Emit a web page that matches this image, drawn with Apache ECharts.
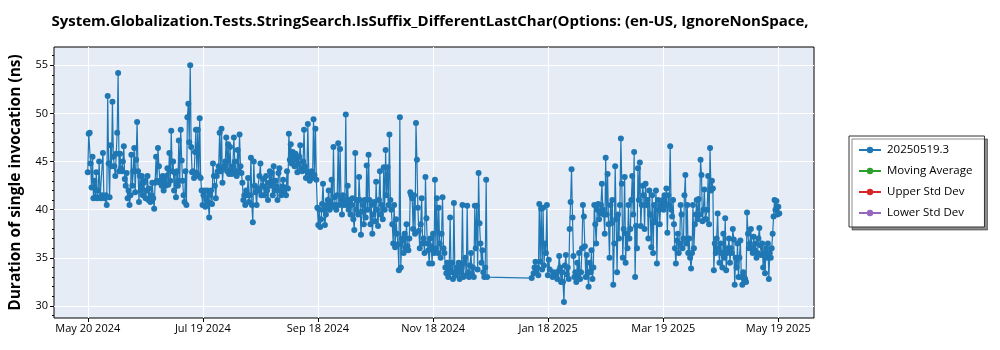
<!DOCTYPE html>
<html><head><meta charset="utf-8">
<script src="https://cdn.jsdelivr.net/npm/echarts@6/dist/echarts.min.js"></script>
<style>html,body{margin:0;padding:0;background:#fff}#c{width:1000px;height:350px}</style>
</head><body><div id="c"></div>
<script>
const titleText = 'System.Globalization.Tests.StringSearch.IsSuffix_DifferentLastChar(Options: (en-US, IgnoreNonSpace,';
const yAxisTitle = 'Duration of single invocation (ns)';
const seriesNames = ['20250519.3', 'Moving Average', 'Upper Std Dev', 'Lower Std Dev'];
const seriesColors = ['#1f77b4', '#2ca02c', '#d62728', '#9467bd'];
const xTickLabels = ['May 20 2024', 'Jul 19 2024', 'Sep 18 2024', 'Nov 18 2024', 'Jan 18 2025', 'Mar 19 2025', 'May 19 2025'];
const yMajorTicks = [30, 35, 40, 45, 50, 55];
const yMinorTicks = [29, 31, 32, 33, 34, 36, 37, 38, 39, 41, 42, 43, 44, 46, 47, 48, 49, 51, 52, 53, 54, 56];
const axisStart = '2024-05-20';
const axisEnd = '2025-05-19';

const dates = [
'2024-05-20','2024-05-21','2024-05-22','2024-05-23','2024-05-24','2024-05-25','2024-05-26','2024-05-27','2024-05-28','2024-05-29','2024-05-30','2024-05-31',
'2024-06-01','2024-06-02','2024-06-03','2024-06-04','2024-06-05','2024-06-06','2024-06-07','2024-06-08','2024-06-09','2024-06-10','2024-06-11','2024-06-12','2024-06-13','2024-06-14','2024-06-15','2024-06-16','2024-06-17','2024-06-18','2024-06-19','2024-06-20','2024-06-21','2024-06-22','2024-06-23','2024-06-24','2024-06-25','2024-06-26','2024-06-27','2024-06-28','2024-06-29','2024-06-30',
'2024-07-01','2024-07-02','2024-07-03','2024-07-04','2024-07-05','2024-07-06','2024-07-07','2024-07-08','2024-07-09','2024-07-10','2024-07-11','2024-07-12','2024-07-13','2024-07-14','2024-07-15','2024-07-16','2024-07-17','2024-07-18','2024-07-19','2024-07-20','2024-07-21','2024-07-22','2024-07-23','2024-07-24','2024-07-25','2024-07-26','2024-07-27','2024-07-28','2024-07-29','2024-07-30','2024-07-31',
'2024-08-01','2024-08-02','2024-08-03','2024-08-04','2024-08-05','2024-08-06','2024-08-07','2024-08-08','2024-08-09','2024-08-10','2024-08-11','2024-08-12','2024-08-13','2024-08-14','2024-08-15','2024-08-16','2024-08-17','2024-08-18','2024-08-19','2024-08-20','2024-08-21','2024-08-22','2024-08-23','2024-08-24','2024-08-25','2024-08-26','2024-08-27','2024-08-28','2024-08-29','2024-08-30','2024-08-31',
'2024-09-01','2024-09-02','2024-09-03','2024-09-04','2024-09-05','2024-09-06','2024-09-07','2024-09-08','2024-09-09','2024-09-10','2024-09-11','2024-09-12','2024-09-13','2024-09-14','2024-09-15','2024-09-16','2024-09-17','2024-09-18','2024-09-19','2024-09-20','2024-09-21','2024-09-22','2024-09-23','2024-09-24','2024-09-25','2024-09-26','2024-09-27','2024-09-28','2024-09-29','2024-09-30',
'2024-10-01','2024-10-02','2024-10-03','2024-10-04','2024-10-05','2024-10-06','2024-10-07','2024-10-08','2024-10-09','2024-10-10','2024-10-11','2024-10-12','2024-10-13','2024-10-14','2024-10-15','2024-10-16','2024-10-17','2024-10-18','2024-10-19','2024-10-20','2024-10-21','2024-10-22','2024-10-23','2024-10-24','2024-10-25','2024-10-26','2024-10-27','2024-10-28','2024-10-29','2024-10-30','2024-10-31',
'2024-11-01','2024-11-02','2024-11-03','2024-11-04','2024-11-05','2024-11-06','2024-11-07','2024-11-08','2024-11-09','2024-11-10','2024-11-11','2024-11-12','2024-11-13','2024-11-14','2024-11-15','2024-11-16','2024-11-17','2024-11-18','2024-11-19','2024-11-20','2024-11-21','2024-11-22','2024-11-23','2024-11-24','2024-11-25','2024-11-26','2024-11-27','2024-11-28','2024-11-29','2024-11-30',
'2024-12-01','2024-12-02','2024-12-03','2024-12-04','2024-12-05','2024-12-06','2024-12-07','2024-12-08','2024-12-09','2024-12-10','2024-12-11','2024-12-12','2024-12-13','2024-12-14','2024-12-15','2024-12-16',
'2025-01-09','2025-01-10','2025-01-11','2025-01-12','2025-01-13','2025-01-14','2025-01-15','2025-01-16','2025-01-17','2025-01-18','2025-01-20','2025-01-22','2025-01-23','2025-01-24','2025-01-25','2025-01-26','2025-01-27','2025-01-28','2025-01-29','2025-01-30','2025-01-31',
'2025-02-01','2025-02-02','2025-02-03','2025-02-04','2025-02-05','2025-02-06','2025-02-07','2025-02-08','2025-02-09','2025-02-10','2025-02-11','2025-02-12','2025-02-13','2025-02-14','2025-02-15','2025-02-16','2025-02-17','2025-02-18','2025-02-19','2025-02-20','2025-02-21','2025-02-22','2025-02-23','2025-02-24','2025-02-25','2025-02-26','2025-02-27','2025-02-28',
'2025-03-01','2025-03-02','2025-03-03','2025-03-04','2025-03-05','2025-03-06','2025-03-07','2025-03-08','2025-03-09','2025-03-10','2025-03-11','2025-03-12','2025-03-13','2025-03-14','2025-03-15','2025-03-16','2025-03-17','2025-03-18','2025-03-19','2025-03-20','2025-03-21','2025-03-22','2025-03-23','2025-03-24','2025-03-25','2025-03-26','2025-03-27','2025-03-28','2025-03-29','2025-03-30','2025-03-31',
'2025-04-01','2025-04-02','2025-04-03','2025-04-04','2025-04-05','2025-04-06','2025-04-07','2025-04-08','2025-04-09','2025-04-10','2025-04-11','2025-04-12','2025-04-13','2025-04-14','2025-04-15','2025-04-16','2025-04-17','2025-04-18','2025-04-19','2025-04-20','2025-04-21','2025-04-22','2025-04-23','2025-04-24','2025-04-25','2025-04-26','2025-04-27','2025-04-28','2025-04-29','2025-04-30',
'2025-05-01','2025-05-02','2025-05-03','2025-05-04','2025-05-05','2025-05-06','2025-05-07','2025-05-08','2025-05-09','2025-05-10','2025-05-11','2025-05-12','2025-05-13','2025-05-14','2025-05-15','2025-05-16','2025-05-17','2025-05-18','2025-05-19'
];

// measured durations (ns) per date, one entry per run that day
const runValues = [
[43.9,47.9],[48.0,44.8],[42.3,45.5],[41.2,43.0],[41.3,43.9],[41.2,42.0],[45.0,41.3],[41.2,41.5],[45.9,41.3],[41.2,41.5],[40.5,51.8],[44.8,41.3],
[46.7,44.5],[51.2,45.5],[44.5,43.5],[45.8,48.0],[54.2,44.0],[45.8,44.3],[44.0,45.0],[46.6,43.2],[42.5,43.8],[41.2,42.0],[40.5,41.5],[45.7,42.5],[44.0,46.4],[41.8,45.2],[49.1,44.0],[40.8,43.5],[42.0,43.5],[41.5,42.8],[43.0,41.2],[42.0,43.5],[41.0,42.2],[40.8,41.5],[42.8,41.2],[40.1,42.8],[45.5,43.0],[46.4,44.5],[42.8,43.0],[42.5,43.5],[42.0,43.0],[42.5,43.5],
[44.3,42.6],[45.9,43.0],[48.2,44.0],[45.0,42.0],[43.8,41.3],[44.0,42.5],[47.2,43.0],[48.3,45.1],[43.0,41.5],[40.8,44.0],[40.5,49.6],[51.0,47.0],[55.0,46.5],[43.9,44.0],[43.3,46.0],[48.3,43.8],[48.3,43.5],[49.5,43.3],[42.0,40.5],[41.5,42.0],[40.3,41.0],[42.0,40.8],[39.2,41.5],[42.0,40.6],[44.8,43.5],[42.5,41.2],[43.5,44.0],[44.5,48.0],[44.0,48.4],[42.8,44.3],[44.5,45.0],
[47.5,44.0],[46.8,43.7],[46.5,44.2],[43.7,44.5],[47.5,45.0],[44.0,43.5],[46.2,44.0],[47.8,44.5],[43.8,42.8],[41.0,41.5],[40.5,42.0],[41.5,43.3],[40.8,41.5],[45.4,40.5],[38.7,45.0],[42.5,41.8],[40.5,42.2],[42.0,43.5],[44.8,41.5],[42.5,43.2],[41.5,42.3],[43.5,42.0],[41.0,42.8],[44.0,42.5],[43.8,41.5],[44.5,42.0],[43.0,42.4],[41.0,43.8],[44.3,42.0],[41.5,42.4],[43.1,41.8],
[42.3,41.5],[44.0,42.2],[47.9,45.2],[46.8,44.8],[46.0,45.4],[44.5,45.8],[45.2,43.9],[44.8,45.5],[46.7,44.3],[44.0,45.0],[48.3,44.5],[43.3,44.0],[48.9,43.8],[43.0,43.5],[44.0,43.3],[49.4,43.6],[48.4,43.1],[40.2,38.4],[40.0,38.2],[39.0,40.6],[42.7,40.0],[38.4,39.5],[40.5,41.0],[42.0,40.0],[40.8,43.1],[40.3,46.5],[41.3,40.5],[40.0,41.5],[46.9,40.5],[46.3,41.0],
[39.5,41.5],[40.5,41.0],[49.9,40.5],[42.5,40.0],[41.0,39.5],[40.5,41.2],[39.0,37.9],[45.9,40.0],[41.0,39.5],[43.4,41.0],[37.4,39.8],[40.5,38.5],[41.0,39.2],[44.6,40.0],[45.7,41.0],[38.5,40.5],[37.5,39.5],[40.8,38.8],[42.9,40.0],[38.3,41.0],[44.0,39.5],[40.5,39.0],[44.4,40.0],[46.2,41.5],[44.4,40.5],[47.8,41.0],[40.0,38.5],[36.5,40.5],[36.1,39.0],[37.5,36.4],[33.7,49.6],
[34.0,37.0],[36.8,35.5],[37.5,36.0],[38.5,36.2],[35.8,37.0],[41.8,41.5],[41.2,38.0],[41.5,37.5],[49.0,45.2],[40.2,37.8],[36.0,38.5],[41.2,36.5],[37.0,35.5],[43.4,39.1],[36.5,35.8],[34.4,37.0],[36.2,34.4],[37.5,35.5],[43.1,36.0],[41.2,35.5],[40.2,36.5],[35.0,37.5],[41.3,36.0],[35.5,34.0],[33.4,34.5],[33.0,34.0],[39.2,33.5],[34.5,32.8],[40.7,33.5],[33.2,34.0],
[33.5,34.5],[32.8,33.5],[34.0,40.5],[33.0,34.5],[35.0,33.2],[40.4,33.5],[33.0,34.2],[35.5,33.3],[34.0,33.0],[40.4,36.0],[40.4,33.8],[43.8,38.6],[36.5,34.5],[35.8,33.5],[33.0,34.0],[43.1,33.0],
[32.9],[33.4,34.0],[34.6,33.5],[34.0,33.2],[40.6,34.6],[40.1,33.8],[40.2,34.2],[36.5,35.5],[40.5,33.2],[34.8,33.8],[33.0,33.5],[33.2,32.8],[33.6,35.2],[34.0,32.5],[33.5,32.5],[30.4,34.2],[35.3,33.3],[34.0,32.8],[38.0,40.8],[44.2,39.2],[35.2,33.0],
[33.5,32.5],[34.5,33.0],[35.5,32.8],[33.5,36.0],[40.5,39.3],[36.2,33.0],[35.3,33.5],[32.0,34.5],[33.5,35.8],[32.8,34.0],[40.5,38.5],[36.5,40.0],[40.6,39.0],[39.6,40.5],[42.7,40.0],[39.5,37.5],[45.4,39.5],[43.7,38.5],[35.0,40.5],[38.6,41.0],[32.2,36.5],[44.5,39.0],[33.5,39.5],[37.0,40.5],[47.4,42.7],[35.0,38.0],[43.4,34.5],[37.5,36.0],
[40.5,37.0],[38.0,41.0],[43.5,39.5],[46.0,33.0],[38.3,36.0],[44.3,41.0],[44.9,38.3],[40.5,42.5],[41.5,38.0],[42.7,40.5],[41.0,37.0],[42.0,39.5],[36.1,41.5],[35.5,40.5],[38.7,42.0],[34.4,41.0],[40.0,38.5],[40.5,40.3],[41.0,40.0],[41.5,40.5],[42.2,37.6],[41.5,40.5],[46.6,40.0],[39.3,41.0],[38.5,36.0],[34.4,36.8],[37.5,35.5],[36.5,40.5],[39.5,36.0],[37.0,41.5],[43.6,36.5],
[40.5,35.5],[37.0,35.0],[33.9,35.5],[40.5,36.0],[38.5,39.5],[41.0,39.0],[41.1,39.5],[45.2,43.6],[38.8,40.0],[42.1,39.0],[39.0,40.0],[43.5,38.5],[46.4,42.0],[43.0,42.2],[33.7,36.5],[35.5,37.0],[39.6,36.0],[34.5,36.5],[35.5,34.0],[37.5,35.0],[39.1,33.7],[35.5,36.0],[37.0,34.5],[36.0,35.5],[38.0,36.9],[32.2,35.0],[34.0,36.5],[33.0,35.0],[36.8,33.0],[32.2,33.5],
[33.0,32.8],[32.5,39.7],[37.5,36.0],[36.5,38.0],[36.0,35.5],[37.2,35.8],[36.5,35.0],[35.5,37.0],[38.1,36.3],[35.3,36.5],[34.0,35.5],[33.4,36.0],[35.0,36.5],[32.8,35.5],[35.0,36.0],[37.5,39.3],[41.0,40.0],[40.9,39.5],[40.3,39.6]
];

const DAY = 86400000;
const t0 = Date.parse(axisStart + 'T00:00:00Z');
const tEnd = Date.parse(axisEnd + 'T00:00:00Z');
const span = (tEnd - t0) / DAY;                // days between first and last tick
const tickStep = span / (xTickLabels.length - 1);
const xTickPos = xTickLabels.map((_, k) => k * tickStep);

const points = [];
dates.forEach((d, i) => {
  const base = (Date.parse(d + 'T00:00:00Z') - t0) / DAY;
  runValues[i].forEach((v, j) => points.push([base + j * 0.5, v]));
});

const FONT = 'Open Sans';
const X_MIN = -17.8, X_MAX = 382.8, Y_MIN = 28.75, Y_MAX = 56.9;
const chart = echarts.init(document.getElementById('c'), null, {renderer: 'canvas'});
chart.setOption({
  animation: false,
  backgroundColor: '#ffffff',
  textStyle: {fontFamily: FONT},
  title: {
    text: titleText, left: 425, textAlign: 'center', top: 9,
    textStyle: {fontFamily: FONT, fontWeight: 'bold', fontSize: 15, color: '#000'}
  },
  grid: {
    left: 48, right: 186, top: 47, bottom: 32,
    show: true, backgroundColor: '#e5ecf6', borderColor: '#000', borderWidth: 1
  },
  legend: {
    orient: 'vertical', left: 849, top: 136,
    data: seriesNames,
    padding: [8, 12, 8, 9],
    itemGap: 9, itemWidth: 22, itemHeight: 8,
    backgroundColor: '#ffffff', borderColor: '#333', borderWidth: 1,
    shadowColor: 'rgba(0,0,0,0.45)', shadowBlur: 0, shadowOffsetX: 3, shadowOffsetY: 3,
    textStyle: {fontFamily: FONT, fontSize: 11.5, color: '#000', padding: [0, 0, 0, 1]}
  },
  xAxis: {
    type: 'value',
    min: X_MIN, max: X_MAX,
    axisLine: {show: false, onZero: false},
    axisTick: {show: true, length: 4, lineStyle: {color: '#000'}, customValues: xTickPos},
    splitLine: {show: true, lineStyle: {color: '#ffffff', width: 1}},
    axisLabel: {
      fontSize: 11, color: '#000', margin: 5, customValues: xTickPos,
      formatter: v => {
        const k = Math.round(v / tickStep);
        return xTickLabels[k] || '';
      }
    }
  },
  yAxis: [
    {
      type: 'value',
      min: Y_MIN, max: Y_MAX,
      name: yAxisTitle, nameLocation: 'middle', nameGap: 30,
      nameTextStyle: {fontFamily: FONT, fontWeight: 'bold', fontSize: 15.5, color: '#000'},
      axisLine: {show: false, onZero: false},
      axisTick: {show: true, length: 4, lineStyle: {color: '#000'}, customValues: yMajorTicks},
      splitLine: {show: true, lineStyle: {color: '#ffffff', width: 1}},
      axisLabel: {fontSize: 11, color: '#000', margin: 6, customValues: yMajorTicks}
    },
    {
      type: 'value', position: 'left',
      min: Y_MIN, max: Y_MAX,
      axisLine: {show: false, onZero: false},
      axisTick: {show: true, length: 2, lineStyle: {color: '#000'}, customValues: yMinorTicks},
      splitLine: {show: false},
      axisLabel: {show: false}
    }
  ],
  series: [
    {
      name: seriesNames[0], type: 'line', data: points,
      symbol: 'circle', symbolSize: 6, showAllSymbol: true,
      itemStyle: {color: seriesColors[0]},
      lineStyle: {color: seriesColors[0], width: 1.2}
    },
    {name: seriesNames[1], type: 'line', data: [], symbol: 'circle', itemStyle: {color: seriesColors[1]}, lineStyle: {color: seriesColors[1]}},
    {name: seriesNames[2], type: 'line', data: [], symbol: 'circle', itemStyle: {color: seriesColors[2]}, lineStyle: {color: seriesColors[2]}},
    {name: seriesNames[3], type: 'line', data: [], symbol: 'circle', itemStyle: {color: seriesColors[3]}, lineStyle: {color: seriesColors[3]}}
  ]
});
</script></body></html>
